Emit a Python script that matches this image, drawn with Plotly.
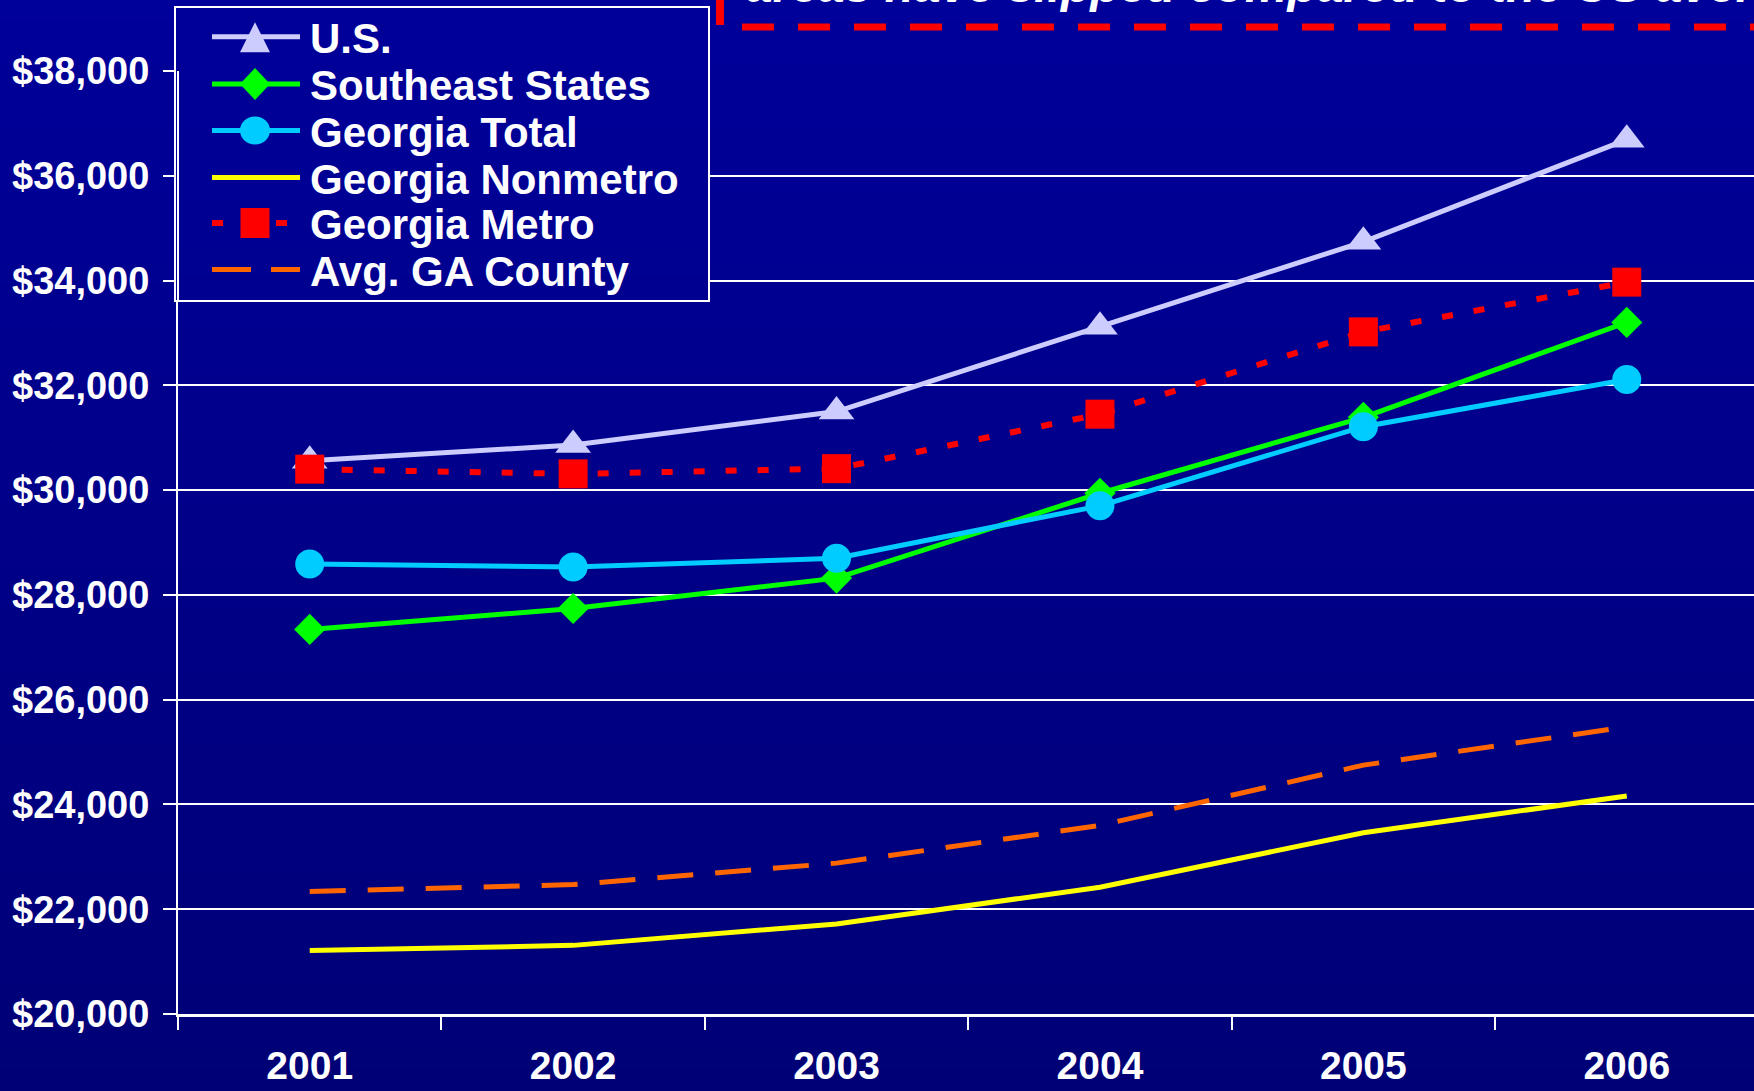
import plotly.graph_objects as go

# ---------------- data ----------------
years = ["2001", "2002", "2003", "2004", "2005", "2006"]
us = [30560, 30860, 31500, 33120, 34740, 36690]
southeast = [27340, 27740, 28320, 29940, 31390, 33200]
ga_total = [28590, 28530, 28700, 29700, 31210, 32110]
ga_nonmetro = [21210, 21310, 21720, 22420, 23460, 24160]
ga_metro = [30400, 30310, 30410, 31450, 33020, 33970]
avg_ga_county = [22340, 22470, 22880, 23600, 24750, 25480]

series_names = ["U.S.", "Southeast States", "Georgia Total",
                "Georgia Nonmetro", "Georgia Metro", "Avg. GA County"]
series_values = [us, southeast, ga_total, ga_nonmetro, ga_metro, avg_ga_county]

y_tick_values = [20000, 22000, 24000, 26000, 28000, 30000, 32000, 34000, 36000, 38000]
y_tick_labels = ["$20,000", "$22,000", "$24,000", "$26,000", "$28,000",
                 "$30,000", "$32,000", "$34,000", "$36,000", "$38,000"]
callout_text = "areas have slipped compared to the US average"

# ---------------- layout geometry ----------------
W_FIG, H_FIG = 1754, 1091
ML, MR, MT, MB = 178, 0, 71, 77
PW = W_FIG - ML - MR
PH = H_FIG - MT - MB
FONT = "Arial, 'Liberation Sans', sans-serif"


def px(x):
    return (x - ML) / PW


def py(y):
    return (MT + PH - y) / PH


def bg_color(y):
    t = min(max(y / H_FIG, 0.0), 1.0)
    b = round(0x9A + (0x76 - 0x9A) * t)
    return f"rgb(0,0,{b})"


styles = [
    dict(color="#CCCCFF", width=5, dash="solid", symbol="triangle-up", size=31),
    dict(color="#00FF00", width=5, dash="solid", symbol="diamond", size=24),
    dict(color="#00CCFF", width=5, dash="solid", symbol="circle", size=29),
    dict(color="#FFFF00", width=5, dash="solid", symbol=None, size=0),
    dict(color="#FF0000", width=6, dash="11px,21px", symbol="square", size=29),
    dict(color="#FF6600", width=5, dash="36px,22px", symbol=None, size=0),
]

fig = go.Figure()
for name, vals, st in zip(series_names, series_values, styles):
    kw = dict(
        x=years, y=vals, name=name,
        line=dict(color=st["color"], width=st["width"], dash=st["dash"]),
        showlegend=False, cliponaxis=False,
    )
    if st["symbol"]:
        kw["mode"] = "lines+markers"
        kw["marker"] = dict(symbol=st["symbol"], size=st["size"], color=st["color"],
                            line=dict(width=0))
    else:
        kw["mode"] = "lines"
    fig.add_trace(go.Scatter(**kw))

shapes = []
# background vertical gradient
n = 50
for i in range(n):
    y0 = i * H_FIG / n
    y1 = (i + 1) * H_FIG / n + 1
    shapes.append(dict(type="rect", xref="paper", yref="paper",
                       x0=px(-5), x1=px(W_FIG + 5), y0=py(y1), y1=py(y0),
                       fillcolor=bg_color((y0 + y1) / 2), line=dict(width=0),
                       layer="below"))

# callout (cut off at the top of the image, as in the original slide)
shapes.append(dict(type="line", xref="paper", yref="paper",
                   x0=px(742), x1=px(W_FIG + 40), y0=py(27), y1=py(27),
                   line=dict(color="#FF0000", width=7, dash="32px,24px"), layer="above"))
shapes.append(dict(type="line", xref="paper", yref="paper",
                   x0=px(720), x1=px(720), y0=py(25), y1=py(-10),
                   line=dict(color="#FF0000", width=8), layer="above"))

# legend box (opaque, gradient fill)
LB_X0, LB_X1, LB_Y0, LB_Y1 = 175, 709, 7, 301
nb = 12
for i in range(nb):
    y0 = LB_Y0 + i * (LB_Y1 - LB_Y0) / nb
    y1 = LB_Y0 + (i + 1) * (LB_Y1 - LB_Y0) / nb + (0.5 if i < nb - 1 else 0)
    shapes.append(dict(type="rect", xref="paper", yref="paper",
                       x0=px(LB_X0), x1=px(LB_X1), y0=py(y1), y1=py(y0),
                       fillcolor=bg_color((y0 + y1) / 2), line=dict(width=0),
                       layer="above"))
shapes.append(dict(type="rect", xref="paper", yref="paper",
                   x0=px(LB_X0), x1=px(LB_X1), y0=py(LB_Y1), y1=py(LB_Y0),
                   line=dict(color="white", width=2), layer="above"))
# y axis line visible through the legend box
shapes.append(dict(type="line", xref="paper", yref="paper",
                   x0=0, x1=0, y0=py(LB_Y1), y1=1,
                   line=dict(color="white", width=2), layer="above"))

# legend symbols
leg_line_y = [36.7, 84.0, 130.5, 177.5, 223.0, 269.5]
leg_x0, leg_x1, leg_mx = 212, 300, 255
for st, ly in zip(styles, leg_line_y):
    if st["symbol"] == "square":
        dash = "11px,21px"
    elif st["dash"] != "solid":
        dash = "39px,20px"
    else:
        dash = "solid"
    shapes.append(dict(type="line", xref="paper", yref="paper",
                       x0=px(leg_x0), x1=px(leg_x1), y0=py(ly), y1=py(ly),
                       line=dict(color=st["color"], width=st["width"], dash=dash),
                       layer="above"))
    c = st["color"]
    if st["symbol"] == "triangle-up":
        path = (f"M {px(leg_mx - 15)},{py(ly + 15.5)} L {px(leg_mx + 15)},{py(ly + 15.5)} "
                f"L {px(leg_mx)},{py(ly - 14.5)} Z")
        shapes.append(dict(type="path", xref="paper", yref="paper", path=path,
                           fillcolor=c, line=dict(width=0), layer="above"))
    elif st["symbol"] == "diamond":
        path = (f"M {px(leg_mx - 15)},{py(ly)} L {px(leg_mx)},{py(ly - 16)} "
                f"L {px(leg_mx + 15)},{py(ly)} L {px(leg_mx)},{py(ly + 16)} Z")
        shapes.append(dict(type="path", xref="paper", yref="paper", path=path,
                           fillcolor=c, line=dict(width=0), layer="above"))
    elif st["symbol"] == "circle":
        shapes.append(dict(type="circle", xref="paper", yref="paper",
                           x0=px(leg_mx - 15), x1=px(leg_mx + 15),
                           y0=py(ly + 14), y1=py(ly - 14),
                           fillcolor=c, line=dict(width=0), layer="above"))
    elif st["symbol"] == "square":
        shapes.append(dict(type="rect", xref="paper", yref="paper",
                           x0=px(leg_mx - 14.5), x1=px(leg_mx + 14.5),
                           y0=py(ly + 15), y1=py(ly - 15),
                           fillcolor=c, line=dict(width=0), layer="above"))

annotations = []
for name, ly in zip(series_names, leg_line_y):
    annotations.append(dict(xref="paper", yref="paper", x=px(308), y=py(ly + 1.5),
                            xanchor="left", yanchor="middle", showarrow=False,
                            text=name,
                            font=dict(family=FONT, size=42, color="white", weight="bold")))
annotations.append(dict(xref="paper", yref="paper", x=px(744), y=py(-14.5),
                        xanchor="left", yanchor="middle", showarrow=False,
                        text=callout_text,
                        font=dict(family=FONT, size=48, color="white", weight="bold",
                                  style="italic")))

fig.update_layout(
    width=W_FIG, height=H_FIG,
    margin=dict(l=ML, r=MR, t=MT, b=MB, autoexpand=False),
    paper_bgcolor="#000088",
    plot_bgcolor="rgba(0,0,0,0)",
    showlegend=False,
    shapes=shapes,
    annotations=annotations,
    font=dict(family=FONT, color="white"),
    xaxis=dict(
        type="category", categoryorder="array", categoryarray=years,
        range=[-0.5, 5.483], tickson="boundaries",
        ticks="outside", ticklen=13, tickwidth=2, tickcolor="white",
        showline=True, linecolor="white", linewidth=3,
        showgrid=False, zeroline=False,
        tickfont=dict(family=FONT, size=39, color="white", weight="bold"),
        ticklabelstandoff=15,
        automargin=False,
    ),
    yaxis=dict(
        range=[20000, 38000], tickvals=y_tick_values, ticktext=y_tick_labels,
        ticks="outside", ticklen=13, tickwidth=2, tickcolor="white",
        showline=True, linecolor="white", linewidth=2,
        showgrid=True, gridcolor="white", gridwidth=2, zeroline=False,
        tickfont=dict(family=FONT, size=38, color="white", weight="bold"),
        ticklabelstandoff=6,
        automargin=False,
    ),
)

fig.write_html(
    "out.html",
    include_plotlyjs=True,
    config={"displayModeBar": False},
    post_script="document.body.style.margin='0';document.body.style.overflow='hidden';",
)
